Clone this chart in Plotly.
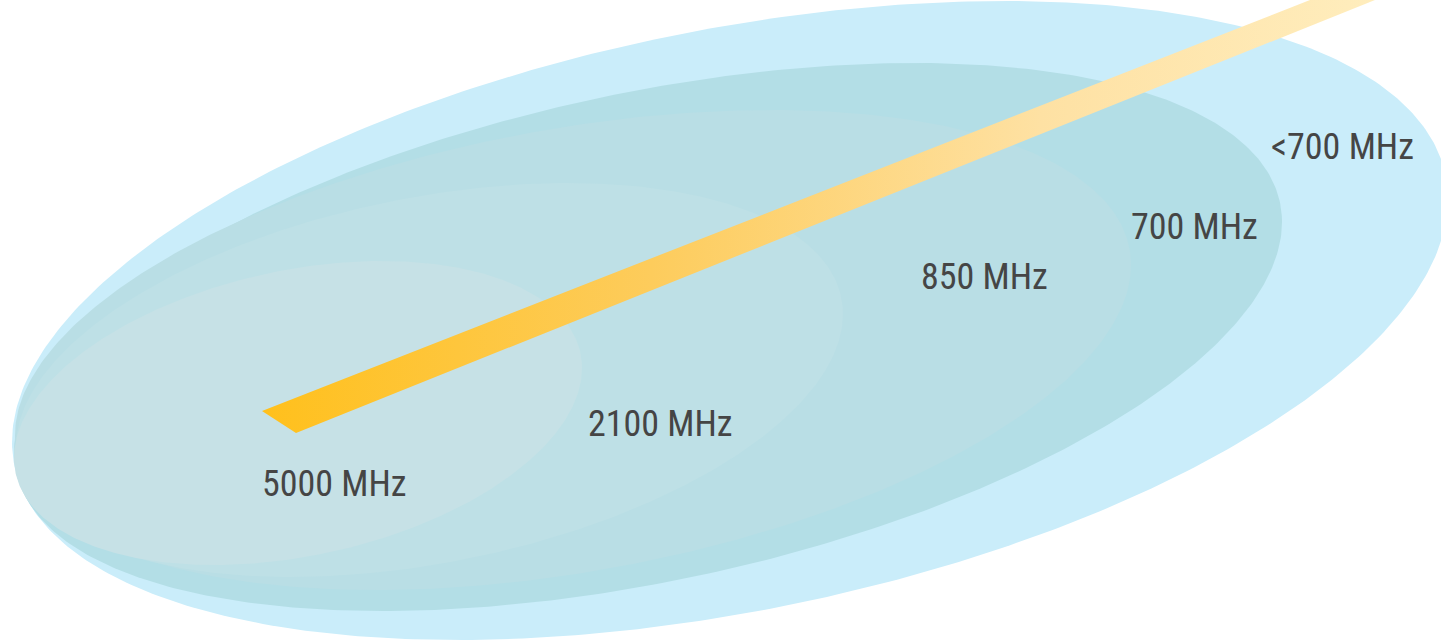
import numpy as np
import plotly.graph_objects as go

# Frequency bands (outermost coverage first)
bands = ["<700 MHz", "700 MHz", "850 MHz", "2100 MHz", "5000 MHz"]
fill_colors = ["#CAEDFA", "#B3DEE6", "#B9DEE5", "#BEE0E6", "#C6E1E6"]

# Coverage ellipse geometry (pixel-like diagram units)
center_x = [730, 648, 573, 429.5, 298]
center_y = [320.5, 337, 350, 380, 413]
half_w = [718, 634, 558, 413.5, 284]
half_h = [319.5, 274, 240, 197, 152]
tilt = [121.5, 115, 85, 66, 45]

# Label anchor points
label_x = [1342, 1194, 984, 660, 334]
label_y = [147, 227, 277, 424, 484]

# Beam outline
beam_x = [262, 296, 1375, 1310]
beam_y = [411, 433, 0, 0]

fig = go.Figure()
t = np.linspace(0, 2 * np.pi, 500)
for i, name in enumerate(bands):
    ex = center_x[i] + half_w[i] * np.cos(t)
    ey = center_y[i] - tilt[i] * np.cos(t) + np.sqrt(half_h[i] ** 2 - tilt[i] ** 2) * np.sin(t)
    fig.add_trace(go.Scatter(x=ex, y=ey, mode="lines", fill="toself",
                             fillcolor=fill_colors[i], line=dict(width=0),
                             hoverinfo="skip", showlegend=False, name=name))

fig.add_trace(go.Scatter(
    x=beam_x + [beam_x[0]], y=beam_y + [beam_y[0]], mode="lines", fill="toself",
    line=dict(width=0),
    fillgradient=dict(type="horizontal",
                      colorscale=[[0, "#FFC01C"], [0.35, "#FDCC5C"], [0.7, "#FEE1A3"], [1, "#FFEDBD"]]),
    hoverinfo="skip", showlegend=False))

for i, name in enumerate(bands):
    fig.add_annotation(x=label_x[i], y=label_y[i], text=name, showarrow=False,
                       xanchor="center", yanchor="middle",
                       font=dict(family="Liberation Sans Narrow, Arial Narrow, Roboto Condensed, sans-serif",
                                 size=36, color="#454545"))

fig.update_layout(
    width=1441, height=641,
    margin=dict(l=0, r=0, t=0, b=0),
    paper_bgcolor="white", plot_bgcolor="white",
    xaxis=dict(range=[0, 1441], visible=False, fixedrange=True),
    yaxis=dict(range=[641, 0], visible=False, fixedrange=True),
)
fig.write_html("out.html", config={"displayModeBar": False},
               post_script="document.body.style.margin='0';document.body.style.overflow='hidden';")
